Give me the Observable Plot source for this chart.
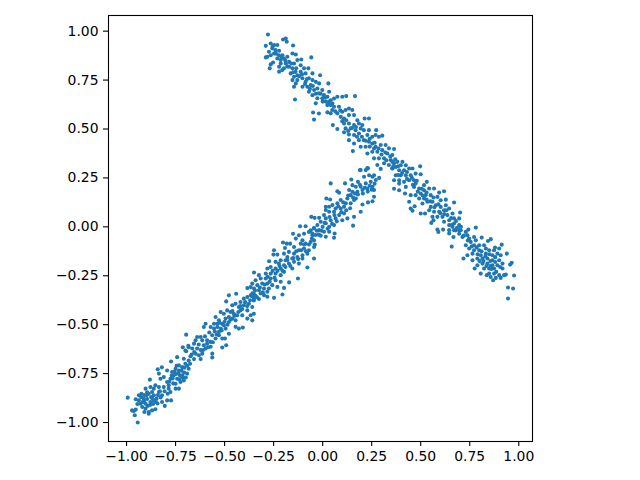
<!DOCTYPE html>
<html><head><meta charset="utf-8">
<script src="https://cdn.jsdelivr.net/npm/d3@7"></script>
<script src="https://cdn.jsdelivr.net/npm/@observablehq/plot@0.6"></script>
<style>html,body{margin:0;padding:0;background:#fff}svg{display:block}</style>
</head><body><div id="chart"></div>
<script>
const lowerA = [[-0.994,-0.873],[-0.943,-1.0],[-0.958,-0.963],[-0.963,-0.941],[-0.953,-0.934],[-0.972,-0.938],[-0.953,-0.881],[-0.937,-0.861],[-0.924,-0.853],[-0.903,-0.827],[-0.881,-0.781],[-0.841,-0.728],[-0.82,-0.718],[-0.773,-0.688],[-0.742,-0.666],[-0.713,-0.615],[-0.7,-0.632],[-0.683,-0.615],[-0.937,-0.887],[-0.926,-0.87],[-0.912,-0.878],[-0.898,-0.861],[-0.887,-0.853],[-0.87,-0.844],[-0.861,-0.827],[-0.878,-0.819],[-0.853,-0.81],[-0.835,-0.819],[-0.92,-0.921],[-0.903,-0.929],[-0.887,-0.946],[-0.87,-0.938],[-0.853,-0.932],[-0.909,-0.946],[-0.887,-0.955],[-0.929,-0.904],[-0.903,-0.904],[-0.878,-0.895],[-0.861,-0.887],[-0.847,-0.878],[-0.861,-0.861],[-0.835,-0.844],[-0.819,-0.861],[-0.81,-0.819],[-0.785,-0.81],[-0.819,-0.895],[-0.793,-0.887],[-0.773,-0.887],[-0.805,-0.915],[-0.75,-0.827],[-0.733,-0.827],[-0.776,-0.844],[-0.785,-0.827],[-0.793,-0.793],[-0.776,-0.776],[-0.81,-0.768],[-0.827,-0.776],[-0.835,-0.75],[-0.793,-0.734],[-0.768,-0.742],[-0.75,-0.725],[-0.733,-0.734],[-0.716,-0.717],[-0.7,-0.7],[-0.683,-0.683],[-0.708,-0.674],[-0.733,-0.708],[-0.759,-0.759],[-0.742,-0.776],[-0.716,-0.759],[-0.691,-0.75],[-0.708,-0.785],[-0.725,-0.793],[-0.683,-0.725],[-0.75,-0.802],[-0.91,-0.89],[-0.895,-0.88],[-0.88,-0.91],[-0.865,-0.905],[-0.85,-0.895],[-0.84,-0.86],[-0.83,-0.84],[-0.895,-0.845],[-0.91,-0.86],[-0.875,-0.87],[-0.765,-0.775],[-0.755,-0.74],[-0.77,-0.76],[-0.735,-0.75],[-0.72,-0.735],[-0.73,-0.78],[-0.705,-0.72],[-0.69,-0.71],[-0.715,-0.77],[-0.745,-0.71]];
const lowerB = [[-0.696,-0.551],[-0.478,-0.35],[-0.492,-0.381],[-0.441,-0.342],[-0.384,-0.313],[-0.367,-0.308],[-0.407,-0.515],[-0.427,-0.52],[-0.478,-0.546],[-0.498,-0.571],[-0.492,-0.605],[-0.512,-0.617],[-0.563,-0.668],[-0.563,-0.648],[-0.685,-0.608],[-0.696,-0.636],[-0.674,-0.661],[-0.597,-0.495],[-0.606,-0.512],[-0.359,-0.478],[-0.384,-0.469],[-0.656,-0.597],[-0.64,-0.563],[-0.622,-0.563],[-0.614,-0.58],[-0.648,-0.58],[-0.665,-0.622],[-0.64,-0.622],[-0.622,-0.63],[-0.606,-0.605],[-0.589,-0.597],[-0.597,-0.622],[-0.571,-0.588],[-0.563,-0.554],[-0.546,-0.571],[-0.529,-0.554],[-0.512,-0.571],[-0.631,-0.656],[-0.648,-0.648],[-0.614,-0.648],[-0.656,-0.676],[-0.622,-0.676],[-0.571,-0.613],[-0.589,-0.58],[-0.571,-0.512],[-0.554,-0.52],[-0.537,-0.512],[-0.52,-0.52],[-0.512,-0.495],[-0.546,-0.461],[-0.529,-0.478],[-0.52,-0.435],[-0.504,-0.444],[-0.487,-0.427],[-0.47,-0.435],[-0.495,-0.469],[-0.478,-0.486],[-0.504,-0.503],[-0.529,-0.537],[-0.495,-0.52],[-0.478,-0.461],[-0.461,-0.469],[-0.444,-0.478],[-0.453,-0.444],[-0.436,-0.452],[-0.461,-0.401],[-0.444,-0.393],[-0.427,-0.41],[-0.419,-0.384],[-0.402,-0.367],[-0.384,-0.359],[-0.367,-0.35],[-0.351,-0.342],[-0.402,-0.401],[-0.376,-0.393],[-0.351,-0.376],[-0.419,-0.427],[-0.384,-0.427],[-0.359,-0.41],[-0.41,-0.452],[-0.351,-0.444],[-0.367,-0.452],[-0.444,-0.511],[-0.537,-0.495],[-0.554,-0.495]];
const lowerC = [[-0.151,-0.035],[-0.115,0.003],[-0.087,0.003],[-0.202,-0.08],[-0.183,-0.086],[-0.166,-0.086],[-0.248,-0.12],[-0.273,-0.176],[-0.35,-0.233],[-0.126,-0.264],[-0.171,-0.284],[-0.197,-0.312],[-0.078,-0.208],[-0.044,-0.162],[-0.137,-0.06],[-0.103,-0.069],[-0.044,-0.006],[-0.282,-0.332],[-0.248,-0.363],[-0.205,-0.346],[-0.121,-0.043],[-0.095,-0.035],[-0.07,-0.026],[-0.052,-0.043],[-0.061,-0.018],[-0.112,-0.086],[-0.087,-0.086],[-0.061,-0.077],[-0.044,-0.069],[-0.146,-0.103],[-0.192,-0.108],[-0.251,-0.142],[-0.231,-0.142],[-0.197,-0.137],[-0.172,-0.128],[-0.146,-0.137],[-0.121,-0.12],[-0.095,-0.111],[-0.07,-0.12],[-0.044,-0.103],[-0.18,-0.154],[-0.155,-0.162],[-0.129,-0.154],[-0.103,-0.145],[-0.078,-0.137],[-0.214,-0.171],[-0.189,-0.171],[-0.223,-0.188],[-0.197,-0.196],[-0.172,-0.188],[-0.146,-0.179],[-0.121,-0.188],[-0.103,-0.162],[-0.24,-0.179],[-0.265,-0.205],[-0.282,-0.213],[-0.24,-0.213],[-0.214,-0.213],[-0.197,-0.23],[-0.155,-0.213],[-0.29,-0.239],[-0.265,-0.239],[-0.24,-0.239],[-0.214,-0.247],[-0.325,-0.247],[-0.316,-0.264],[-0.29,-0.264],[-0.265,-0.264],[-0.24,-0.273],[-0.214,-0.281],[-0.342,-0.273],[-0.359,-0.29],[-0.333,-0.298],[-0.308,-0.29],[-0.282,-0.29],[-0.257,-0.298],[-0.231,-0.307],[-0.35,-0.315],[-0.325,-0.324],[-0.299,-0.315],[-0.274,-0.315],[-0.358,-0.34],[-0.342,-0.352],[-0.316,-0.34],[-0.299,-0.349],[-0.35,-0.366],[-0.325,-0.369],[-0.282,-0.357]];
const lowerD = [[0.041,0.222],[0.114,0.222],[0.146,0.242],[0.18,0.23],[0.194,0.29],[0.228,0.301],[0.22,0.29],[0.075,0.182],[0.084,0.174],[0.019,0.145],[0.038,0.14],[0.203,0.114],[0.231,0.125],[0.254,0.131],[0.194,0.077],[0.16,0.051],[0.155,0.006],[0.061,-0.034],[0.058,-0.056],[-0.041,0.046],[-0.058,0.051],[-0.018,0.046],[0.016,0.103],[0.262,0.154],[0.288,0.25],[0.262,0.264],[0.211,0.256],[0.237,0.264],[0.254,0.256],[0.194,0.205],[0.22,0.222],[0.245,0.23],[0.271,0.239],[0.152,0.213],[0.169,0.205],[0.135,0.188],[0.152,0.179],[0.177,0.179],[0.203,0.188],[0.228,0.196],[0.254,0.205],[0.262,0.188],[0.143,0.162],[0.169,0.145],[0.126,0.145],[0.118,0.12],[0.143,0.12],[0.16,0.137],[0.092,0.137],[0.075,0.12],[0.05,0.111],[0.033,0.103],[0.066,0.094],[0.092,0.094],[0.109,0.103],[0.016,0.086],[0.007,0.06],[0.033,0.077],[0.058,0.077],[0.084,0.06],[0.109,0.069],[0.126,0.043],[0.016,0.043],[0.041,0.034],[0.066,0.043],[0.1,0.034],[-0.01,0.026],[0.016,0.018],[-0.027,0.009],[0,0],[0.033,0],[0.058,0.009],[-0.044,-0.008],[-0.018,-0.017],[0.007,-0.025],[0.033,-0.025],[-0.052,-0.034],[-0.036,-0.042],[-0.01,-0.045],[0.016,-0.051]];
const lowerFill = [[-0.945,-0.905],[-0.918,-0.896],[-0.893,-0.915],[-0.868,-0.878],[-0.842,-0.903],[-0.826,-0.872],[-0.806,-0.84],[-0.79,-0.853],[-0.782,-0.792],[-0.762,-0.8],[-0.748,-0.752],[-0.727,-0.761],[-0.706,-0.745],[-0.698,-0.77],[-0.676,-0.7],[-0.668,-0.653],[-0.655,-0.64],[-0.632,-0.601],[-0.61,-0.63],[-0.6,-0.56],[-0.585,-0.615],[-0.578,-0.54],[-0.56,-0.59],[-0.55,-0.535],[-0.54,-0.55],[-0.525,-0.49],[-0.515,-0.53],[-0.5,-0.485],[-0.485,-0.5],[-0.47,-0.475],[-0.46,-0.43],[-0.45,-0.455],[-0.43,-0.435],[-0.42,-0.405],[-0.41,-0.42],[-0.395,-0.385],[-0.385,-0.405],[-0.37,-0.375],[-0.36,-0.355],[-0.345,-0.325],[-0.335,-0.36],[-0.32,-0.31],[-0.305,-0.335],[-0.295,-0.295],[-0.28,-0.255],[-0.27,-0.28],[-0.255,-0.225],[-0.245,-0.26],[-0.23,-0.225],[-0.22,-0.2],[-0.205,-0.225],[-0.19,-0.205],[-0.18,-0.17],[-0.165,-0.2],[-0.15,-0.16],[-0.135,-0.125],[-0.125,-0.165],[-0.11,-0.12],[-0.095,-0.09],[-0.085,-0.125],[-0.07,-0.09],[-0.055,-0.06],[-0.04,-0.09],[-0.03,-0.02],[-0.02,-0.04],[-0.005,-0.02],[0.01,0.02],[0.025,-0.01],[0.035,0.05],[0.048,0.015],[0.06,0.06],[0.072,0.028],[0.08,0.105],[0.095,0.075],[0.105,0.125],[0.12,0.085],[0.13,0.16],[0.14,0.095],[0.155,0.15],[0.165,0.17],[0.18,0.165],[0.19,0.215],[0.205,0.17],[0.215,0.2],[0.23,0.18],[0.24,0.21],[0.25,0.19],[0.265,0.22]];
const upperE = [[-0.279,0.983],[-0.151,0.927],[-0.188,0.962],[-0.202,0.957],[-0.183,0.946],[-0.29,0.925],[-0.29,0.866],[-0.27,0.81],[-0.265,0.83],[-0.253,0.84],[-0.141,0.651],[-0.058,0.866],[-0.109,0.855],[-0.073,0.81],[-0.052,0.784],[-0.013,0.775],[0.029,0.733],[0.033,0.69],[-0.146,0.716],[-0.222,0.793],[-0.137,0.881],[-0.154,0.886],[-0.265,0.937],[-0.248,0.929],[-0.231,0.929],[-0.257,0.912],[-0.274,0.895],[-0.24,0.903],[-0.248,0.886],[-0.265,0.877],[-0.282,0.869],[-0.223,0.877],[-0.205,0.877],[-0.231,0.86],[-0.214,0.852],[-0.197,0.86],[-0.18,0.869],[-0.214,0.835],[-0.188,0.835],[-0.171,0.843],[-0.197,0.81],[-0.171,0.818],[-0.154,0.81],[-0.222,0.818],[-0.206,0.801],[-0.146,0.835],[-0.129,0.852],[-0.112,0.826],[-0.138,0.792],[-0.163,0.784],[-0.146,0.767],[-0.129,0.775],[-0.112,0.792],[-0.095,0.81],[-0.087,0.784],[-0.154,0.75],[-0.129,0.75],[-0.103,0.759],[-0.137,0.733],[-0.087,0.741],[-0.07,0.759],[-0.052,0.75],[-0.103,0.716],[-0.078,0.716],[-0.061,0.725],[-0.035,0.741],[-0.018,0.733],[-0.07,0.69],[-0.044,0.699],[-0.027,0.707],[-0.052,0.673],[-0.002,0.699],[-0.019,0.682],[-0.027,0.657],[-0.002,0.657],[0.016,0.64],[-0.035,0.631],[0.033,0.64],[0.007,0.673],[-0.044,0.548],[-0.049,0.584],[-0.019,0.579]];
const upperF = [[0.165,0.668],[0.12,0.668],[0.236,0.554],[0.214,0.554],[0.273,0.494],[0.154,0.387],[0.364,0.398],[0.228,0.375],[0.231,0.299],[0.19,0.29],[0.304,0.466],[0.052,0.52],[0.075,0.5],[0.024,0.585],[0.041,0.58],[0.024,0.665],[0.041,0.647],[0.058,0.656],[0.075,0.665],[0.1,0.665],[0.024,0.622],[0.041,0.622],[0.058,0.614],[0.083,0.614],[0.049,0.597],[0.075,0.58],[0.1,0.588],[0.117,0.597],[0.134,0.605],[0.151,0.597],[0.092,0.562],[0.109,0.554],[0.134,0.571],[0.16,0.571],[0.177,0.545],[0.109,0.528],[0.134,0.528],[0.16,0.52],[0.185,0.528],[0.202,0.52],[0.117,0.503],[0.143,0.503],[0.168,0.494],[0.194,0.503],[0.109,0.483],[0.134,0.472],[0.16,0.469],[0.185,0.477],[0.21,0.494],[0.236,0.494],[0.228,0.469],[0.253,0.46],[0.27,0.469],[0.287,0.46],[0.134,0.443],[0.16,0.426],[0.185,0.443],[0.21,0.443],[0.236,0.435],[0.194,0.409],[0.219,0.409],[0.253,0.426],[0.27,0.409],[0.296,0.418],[0.321,0.418],[0.338,0.401],[0.253,0.384],[0.279,0.384],[0.304,0.392],[0.33,0.375],[0.355,0.367],[0.262,0.35],[0.287,0.35],[0.313,0.35],[0.347,0.341],[0.279,0.316],[0.313,0.325],[0.338,0.316],[0.364,0.325],[0.296,0.296],[0.355,0.299]];
const upperG = [[0.497,0.309],[0.364,0.195],[0.39,0.187],[0.42,0.17],[0.441,0.128],[0.469,0.105],[0.449,0.094],[0.458,0.082],[0.5,0.068],[0.522,0.068],[0.619,0.182],[0.67,0.124],[0.701,0.073],[0.585,-0.014],[0.59,-0.026],[0.614,-0.014],[0.531,0.23],[0.568,0.196],[0.594,0.175],[0.628,0.139],[0.554,0.02],[0.565,0.034],[0.356,0.332],[0.381,0.332],[0.407,0.332],[0.424,0.315],[0.398,0.315],[0.373,0.306],[0.356,0.298],[0.39,0.289],[0.415,0.289],[0.441,0.298],[0.458,0.298],[0.373,0.264],[0.398,0.264],[0.424,0.264],[0.449,0.264],[0.474,0.272],[0.5,0.269],[0.364,0.238],[0.39,0.238],[0.415,0.23],[0.441,0.238],[0.466,0.238],[0.39,0.221],[0.424,0.204],[0.466,0.204],[0.474,0.221],[0.517,0.213],[0.492,0.196],[0.517,0.187],[0.543,0.196],[0.449,0.162],[0.474,0.162],[0.5,0.17],[0.525,0.162],[0.551,0.162],[0.492,0.145],[0.517,0.145],[0.509,0.119],[0.534,0.128],[0.56,0.128],[0.585,0.153],[0.602,0.136],[0.551,0.102],[0.577,0.11],[0.602,0.102],[0.628,0.11],[0.543,0.085],[0.568,0.077],[0.594,0.077],[0.619,0.085],[0.645,0.094],[0.56,0.051],[0.585,0.051],[0.611,0.051],[0.636,0.06],[0.662,0.068],[0.619,0.026],[0.645,0.034],[0.67,0.043],[0.696,0.043],[0.645,0.009],[0.67,0.017],[0.696,0.009],[0.645,-0.017],[0.67,-0.017],[0.696,-0.017],[0.645,-0.034]];
const upperH = [[0.945,-0.366],[0.945,-0.31],[0.971,-0.315],[0.976,-0.249],[0.934,-0.244],[0.964,-0.184],[0.956,-0.193],[0.939,-0.137],[0.913,-0.091],[0.857,-0.063],[0.843,-0.072],[0.811,-0.055],[0.781,-0.004],[0.743,-0.014],[0.658,-0.101],[0.667,-0.052],[0.718,-0.162],[0.775,-0.213],[0.879,-0.106],[0.9,-0.111],[0.869,-0.273],[0.806,-0.239],[0.837,-0.247],[0.662,0],[0.679,-0.018],[0.704,-0.018],[0.73,-0.026],[0.696,-0.035],[0.713,-0.052],[0.738,-0.043],[0.747,-0.06],[0.772,-0.052],[0.781,-0.069],[0.755,-0.077],[0.73,-0.094],[0.747,-0.111],[0.772,-0.094],[0.798,-0.094],[0.738,-0.145],[0.764,-0.137],[0.772,-0.12],[0.798,-0.12],[0.823,-0.094],[0.832,-0.111],[0.849,-0.12],[0.874,-0.12],[0.806,-0.145],[0.832,-0.137],[0.866,-0.145],[0.891,-0.137],[0.908,-0.145],[0.764,-0.171],[0.789,-0.162],[0.815,-0.162],[0.84,-0.162],[0.866,-0.171],[0.9,-0.171],[0.789,-0.196],[0.815,-0.188],[0.84,-0.188],[0.866,-0.196],[0.891,-0.196],[0.917,-0.188],[0.823,-0.213],[0.849,-0.213],[0.874,-0.213],[0.917,-0.213],[0.849,-0.239],[0.874,-0.239],[0.9,-0.247],[0.925,-0.247],[0.883,-0.261],[0.908,-0.261],[0.857,-0.256]];
const upperFill = [[-0.255,0.92],[-0.238,0.885],[-0.222,0.9],[-0.21,0.865],[-0.19,0.85],[-0.18,0.82],[-0.16,0.835],[-0.15,0.79],[-0.135,0.81],[-0.12,0.77],[-0.105,0.78],[-0.09,0.73],[-0.08,0.755],[-0.065,0.705],[-0.05,0.72],[-0.035,0.68],[-0.01,0.68],[0.0,0.64],[0.012,0.66],[0.03,0.63],[0.05,0.63],[0.065,0.59],[0.09,0.595],[0.1,0.54],[0.12,0.545],[0.13,0.49],[0.15,0.505],[0.17,0.51],[0.175,0.46],[0.2,0.46],[0.22,0.44],[0.24,0.41],[0.24,0.45],[0.262,0.4],[0.265,0.43],[0.285,0.4],[0.3,0.37],[0.32,0.38],[0.325,0.34],[0.345,0.36],[0.36,0.31],[0.37,0.345],[0.385,0.31],[0.385,0.265],[0.405,0.275],[0.43,0.28],[0.43,0.245],[0.455,0.25],[0.46,0.215],[0.48,0.235],[0.485,0.18],[0.505,0.195],[0.51,0.16],[0.53,0.175],[0.53,0.14],[0.55,0.13],[0.565,0.15],[0.57,0.1],[0.59,0.115],[0.6,0.07],[0.62,0.065],[0.63,0.085],[0.655,0.045],[0.66,0.01],[0.68,0.03],[0.685,-0.005],[0.705,0.0],[0.72,-0.045],[0.74,-0.07],[0.76,-0.1],[0.785,-0.105],[0.79,-0.14],[0.81,-0.125],[0.82,-0.175],[0.83,-0.15],[0.85,-0.14],[0.855,-0.175],[0.86,-0.215],[0.88,-0.155],[0.88,-0.18],[0.885,-0.23],[0.905,-0.205],[0.835,-0.2],[0.855,-0.2],[0.8,-0.175]];
const xTicks = [-1,-0.75,-0.5,-0.25,0,0.25,0.5,0.75,1];
const yTicks = [-1,-0.75,-0.5,-0.25,0,0.25,0.5,0.75,1];
const fmt = d => (d < 0 ? "\u2212" : "") + Math.abs(d).toFixed(2);
const points = [...lowerA, ...lowerB, ...lowerC, ...lowerD, ...lowerFill, ...upperE, ...upperF, ...upperG, ...upperH, ...upperFill];
const chart = Plot.plot({
  width: 640, height: 480,
  marginLeft: 108, marginRight: 108, marginTop: 15, marginBottom: 39,
  style: {background: "#fff", fontFamily: "'DejaVu Sans'", fontSize: "13.9px", color: "#000", overflow: "visible"},
  x: {domain: [-1.092, 1.07], label: null},
  y: {domain: [-1.097, 1.08], label: null},
  marks: [
    Plot.dot(points, {x: d => d[0], y: d => d[1], r: 2.05, fill: "#1f77b4", stroke: "none"}),
    Plot.frame({stroke: "#000", strokeWidth: 1.1}),
    Plot.axisX({ticks: xTicks, tickFormat: fmt, tickSize: 5, tickPadding: 5, label: null, stroke: "#000", fill:"#000", strokeOpacity: 1, strokeWidth: 1.1, fontSize: 13.9}),
    Plot.axisY({ticks: yTicks, tickFormat: fmt, tickSize: 5, tickPadding: 5, label: null, stroke: "#000", fill:"#000", strokeOpacity: 1, strokeWidth: 1.1, fontSize: 13.9})
  ]
});
document.getElementById("chart").appendChild(chart);
</script>
</body></html>
